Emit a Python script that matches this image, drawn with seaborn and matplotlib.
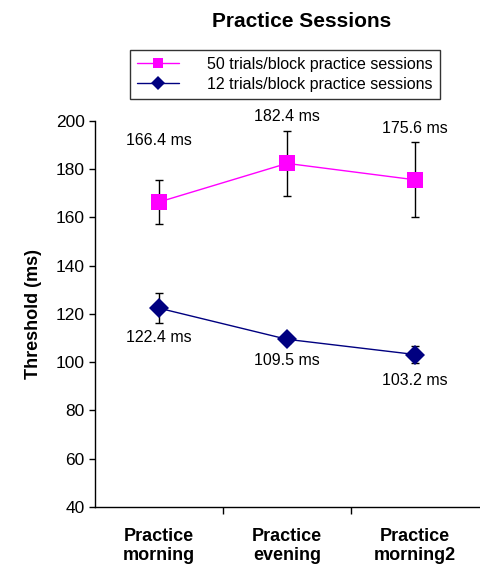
import numpy as np
import pandas as pd
import seaborn as sns
import matplotlib.pyplot as plt

# data
sessions = ['Practice\nmorning', 'Practice\nevening', 'Practice\nmorning2']
trials50 = [166.4, 182.4, 175.6]
trials50_err = [9.0, 13.5, 15.5]
trials12 = [122.4, 109.5, 103.2]
trials12_err = [6.3, 1.5, 3.7]
labels50 = ['166.4 ms', '182.4 ms', '175.6 ms']
labels12 = ['122.4 ms', '109.5 ms', '103.2 ms']

df = pd.DataFrame({'session': sessions, 't50': trials50, 't12': trials12})

sns.set_theme(style='ticks', rc={'text.color': 'black', 'axes.labelcolor': 'black',
                                 'xtick.color': 'black', 'ytick.color': 'black'})
plt.rcParams['font.family'] = ['Liberation Sans', 'DejaVu Sans']

fig = plt.figure(figsize=(4.8, 5.72), dpi=100)
ax = fig.add_axes([0.198, 0.1136, 0.80, 0.675])

pos = np.arange(len(sessions))

ax.errorbar(pos, trials50, yerr=trials50_err, fmt='none', ecolor='black',
            elinewidth=1, capsize=3, capthick=1, zorder=2)
ax.errorbar(pos, trials12, yerr=trials12_err, fmt='none', ecolor='black',
            elinewidth=1, capsize=3, capthick=1, zorder=2)

sns.lineplot(data=df, x='session', y='t50', ax=ax, color='#FF00FF', marker='s',
             markersize=11, markeredgewidth=0, linewidth=1,
             label='50 trials/block practice sessions', zorder=3, sort=False)
sns.lineplot(data=df, x='session', y='t12', ax=ax, color='#000080', marker='D',
             markersize=10, markeredgewidth=0, linewidth=1,
             label='12 trials/block practice sessions', zorder=3, sort=False)

# value labels
off50 = [44, 34, 37]
off12 = [-21, -15, -19]
for i in range(3):
    ax.annotate(labels50[i], (pos[i], trials50[i]), xytext=(0, off50[i]),
                textcoords='offset points', ha='center', va='center', fontsize=11.5)
    ax.annotate(labels12[i], (pos[i], trials12[i]), xytext=(0, off12[i]),
                textcoords='offset points', ha='center', va='center', fontsize=11.5)

ax.set_xlim(-0.5, 2.5)
ax.set_ylim(40, 200)
ax.set_yticks(np.arange(40, 201, 20))
ax.tick_params(axis='y', labelsize=12.5, length=4, width=1, direction='out')

# category ticks sit between categories, labels centred
ax.set_xticks([0.5, 1.5])
ax.set_xticklabels([])
ax.tick_params(axis='x', length=5, width=1, direction='out')
ax.set_xticks(pos, minor=True)
ax.set_xticklabels(sessions, minor=True, fontsize=13, fontweight='bold')
ax.tick_params(axis='x', which='minor', length=0, pad=15)

ax.set_xlabel('')
ax.set_ylabel('Threshold (ms)', fontsize=13, fontweight='bold', labelpad=10)

sns.despine(ax=ax, top=True, right=True)
for s in ['left', 'bottom']:
    ax.spines[s].set_color('black')
    ax.spines[s].set_linewidth(1)

ax.get_legend().remove()
h, l = ax.get_legend_handles_labels()
leg = fig.legend(h, l, loc='center', bbox_to_anchor=(0.594, 0.870),
                 fontsize=11.5, frameon=True, fancybox=False, edgecolor='black',
                 handlelength=2.6, borderpad=0.45, labelspacing=0.3, handletextpad=1.8,
                 markerscale=0.7)
leg.get_frame().set_linewidth(1)

fig.text(0.628, 0.963, 'Practice Sessions', ha='center', va='center',
         fontsize=15, fontweight='bold')

fig.savefig('out.png', dpi=100)
